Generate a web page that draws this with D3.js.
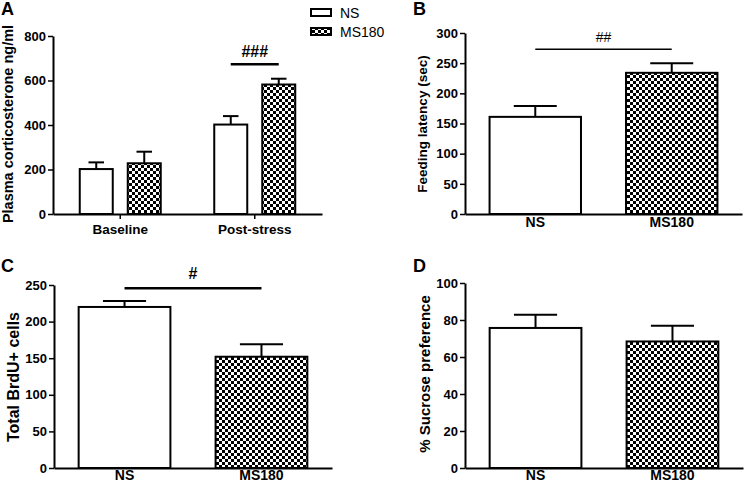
<!DOCTYPE html>
<html><head><meta charset="utf-8">
<script src="https://cdn.jsdelivr.net/npm/d3@7"></script>
<style>body{margin:0;background:#fff} text{font-family:Arial,"Liberation Sans",sans-serif;fill:#000}</style>
</head><body><svg id="c" width="747" height="488"></svg>
<script>
// ---------- data ----------
const groups = ["NS", "MS180"];
// Panel A: plasma corticosterone
const aCategories = ["Baseline", "Post-stress"];
const aNS = [202, 402];
const aNSErr = [30, 38];
const aMS = [228, 582];
const aMSErr = [52, 26];
const aTicks = [0, 200, 400, 600, 800];
// Panel B: feeding latency
const bMeans = [161, 234];
const bErr = [18, 16];
const bTicks = [0, 50, 100, 150, 200, 250, 300];
// Panel C: BrdU+ cells
const cMeans = [220, 152];
const cErr = [8, 17];
const cTicks = [0, 50, 100, 150, 200, 250];
// Panel D: sucrose preference
const dMeans = [75.7, 68.4];
const dErr = [7.2, 8.5];
const dTicks = [0, 20, 40, 60, 80, 100];
// significance markers
const sigLabels = ["###", "##", "#"];
const sigValues = [673, 273, 245.5];

// ---------- drawing ----------
const svg = d3.select("#c");
const defs = svg.append("defs");
const pat = defs.append("pattern").attr("id", "checker")
  .attr("patternUnits", "userSpaceOnUse").attr("width", 6).attr("height", 6);
pat.append("rect").attr("width", 6).attr("height", 6).attr("fill", "#fff");
pat.append("rect").attr("width", 3).attr("height", 3).attr("fill", "#000");
pat.append("rect").attr("x", 3).attr("y", 3).attr("width", 3).attr("height", 3).attr("fill", "#000");

const fillFor = g => g === "NS" ? "#fff" : "url(#checker)";

function yAxis(g, y, ticks, x) {
  const ax = g.append("g").attr("transform", `translate(${x},0)`)
    .call(d3.axisLeft(y).tickValues(ticks).tickSize(5).tickPadding(2).tickSizeOuter(0));
  ax.select(".domain").attr("stroke", "#000").attr("stroke-width", 2);
  ax.selectAll(".tick line").attr("stroke", "#000").attr("stroke-width", 1.5);
  ax.selectAll(".tick text").attr("font-size", 13).attr("font-weight", "bold")
    .attr("font-family", "Arial, 'Liberation Sans', sans-serif").attr("fill", "#000");
}
function xAxis(g, x, y0, tickLen, pad, fs) {
  const ax = g.append("g").attr("transform", `translate(0,${y0})`)
    .call(d3.axisBottom(x).tickSize(tickLen).tickPadding(pad).tickSizeOuter(0));
  ax.select(".domain").attr("stroke", "#000").attr("stroke-width", 2);
  ax.selectAll(".tick line").attr("stroke", "#000").attr("stroke-width", 1.5);
  ax.selectAll(".tick text").attr("font-size", fs).attr("font-weight", "bold")
    .attr("font-family", "Arial, 'Liberation Sans', sans-serif").attr("fill", "#000");
}
function bar(g, xl, w, y, v, e, grp) {
  const capW = w * 0.47, cx = xl + w / 2;
  g.append("line").attr("x1", cx).attr("x2", cx).attr("y1", y(v)).attr("y2", y(v + e))
    .attr("stroke", "#000").attr("stroke-width", 2);
  g.append("line").attr("x1", cx - capW / 2).attr("x2", cx + capW / 2).attr("y1", y(v + e)).attr("y2", y(v + e))
    .attr("stroke", "#000").attr("stroke-width", 2);
  g.append("rect").attr("x", xl).attr("y", y(v)).attr("width", w).attr("height", y(0) - y(v))
    .attr("fill", fillFor(grp)).attr("stroke", "#000").attr("stroke-width", 2);
}
function yTitle(g, text, x, cy, fs) {
  g.append("text").attr("transform", `translate(${x},${cy}) rotate(-90)`)
    .attr("text-anchor", "middle").attr("font-size", fs).attr("font-weight", "bold").text(text);
}
function letter(g, t, x, y) {
  g.append("text").attr("x", x).attr("y", y).attr("font-size", 18).attr("font-weight", "bold").text(t);
}
function sig(g, x1, x2, yv, label, fs, sw, bold, gap) {
  g.append("line").attr("x1", x1).attr("x2", x2).attr("y1", yv).attr("y2", yv)
    .attr("stroke", "#000").attr("stroke-width", sw);
  g.append("text").attr("x", (x1 + x2) / 2).attr("y", yv - gap).attr("text-anchor", "middle")
    .attr("font-size", fs).attr("font-weight", bold ? "bold" : "normal").text(label);
}

// ----- Panel A -----
{
  const g = svg.append("g");
  const y = d3.scaleLinear().domain([0, 800]).range([214, 36]);
  const x0 = d3.scaleBand().domain(aCategories).range([53, 322]);
  const x1 = d3.scaleBand().domain(groups).range([-40.5, 40.5]).paddingInner(0.3125);
  const series = {NS: [aNS, aNSErr], MS180: [aMS, aMSErr]};
  aCategories.forEach((c, i) => {
    groups.forEach(grp => {
      const xl = x0(c) + x0.bandwidth() / 2 + x1(grp);
      bar(g, xl, x1.bandwidth(), y, series[grp][0][i], series[grp][1][i], grp);
    });
  });
  yAxis(g, y, aTicks, 53);
  xAxis(g, x0, y(0), 5, 5, 13.5);
  yTitle(g, "Plasma corticosterone ng/ml", 12.5, 124, 14.5);
  letter(g, "A", 1, 15);
  const c = aCategories[1], base = x0(c) + x0.bandwidth() / 2;
  sig(g, base + x1("NS") + x1.bandwidth() / 2, base + x1("MS180") + x1.bandwidth() / 2,
      y(sigValues[0]), sigLabels[0], 16, 2.5, true, 7);
  // legend
  const lg = svg.append("g");
  groups.forEach((grp, i) => {
    const yy = 9 + i * 19;
    lg.append("rect").attr("x", 311).attr("y", yy).attr("width", 20).attr("height", 7)
      .attr("fill", fillFor(grp)).attr("stroke", "#000").attr("stroke-width", 2);
    lg.append("text").attr("x", 340).attr("y", yy + 9).attr("font-size", 14).text(grp);
  });
}

function simplePanel(means, errs, ticks, dom, yr, xr, title, titleX, titleY, titleFs, let_, lx, ly, pad) {
  const g = svg.append("g");
  const y = d3.scaleLinear().domain(dom).range(yr);
  const x = d3.scaleBand().domain(groups).range(xr).paddingInner(0.33).paddingOuter(0.18);
  groups.forEach((grp, i) => bar(g, x(grp), x.bandwidth(), y, means[i], errs[i], grp));
  yAxis(g, y, ticks, xr[0]);
  xAxis(g, x, y(0), 0, pad, 14);
  yTitle(g, title, titleX, titleY, titleFs);
  letter(g, let_, lx, ly);
  return {g, x, y};
}
// ----- Panel B -----
{
  const p = simplePanel(bMeans, bErr, bTicks, [0, 300], [214, 33], [465, 742],
    "Feeding latency (sec)", 427, 124, 13.5, "B", 413, 15, 3);
  sig(p.g, p.x("NS") + p.x.bandwidth() / 2, p.x("MS180") + p.x.bandwidth() / 2,
      p.y(sigValues[1]), sigLabels[1], 14, 1.5, false, 7);
}
// ----- Panel C -----
{
  const p = simplePanel(cMeans, cErr, cTicks, [0, 250], [468, 285], [54, 332],
    "Total BrdU+ cells", 18.5, 377, 16, "C", 1, 272, 2);
  sig(p.g, p.x("NS") + p.x.bandwidth() / 2, p.x("MS180") + p.x.bandwidth() / 2,
      p.y(sigValues[2]), sigLabels[2], 16, 2.5, true, 9);
}
// ----- Panel D -----
{
  simplePanel(dMeans, dErr, dTicks, [0, 100], [468, 283], [465, 743],
    "% Sucrose preference", 430, 374, 15, "D", 413, 272, 2);
}
</script></body></html>
